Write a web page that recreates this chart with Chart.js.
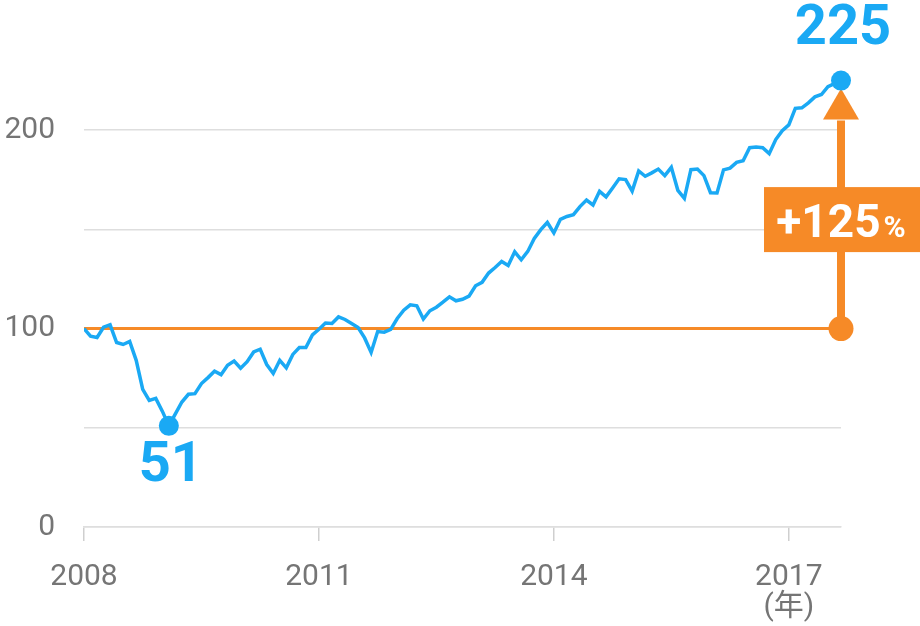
<!DOCTYPE html>
<html lang="ja">
<head>
<meta charset="utf-8">
<title>Index chart</title>
<script src="https://cdn.jsdelivr.net/npm/chart.js@4.4.1/dist/chart.umd.min.js"></script>
<style>
    html, body { margin: 0; padding: 0; background: #fff; }
    #wrap { width: 920px; height: 626px; }
</style>
</head>
<body>
<div id="wrap"><canvas id="index-chart" width="920" height="626"></canvas></div>
<script>
// Monthly index, Jan 2008 = 100 (month 0) .. Sep 2017 (month 116)
const indexValues = [
    100, 96.2, 95.5, 100.7, 101.9, 93, 92, 93.5, 84, 69.4, 63.8, 64.8,
    58.4, 51, 57, 63, 66.9, 67.2, 72.3, 75.3, 78.5, 76.8, 81.5, 83.6,
    80, 83.3, 88.2, 89.6, 81.9, 77.4, 84, 80.2, 87, 90.5, 90.5, 96.8,
    99.7, 102.8, 102.6, 105.9, 104.6, 102.6, 100.5, 95.3, 88, 98.5, 98.2, 99.6,
    105.1, 109.3, 112, 111.5, 104.8, 109, 110.8, 113.3, 116, 114, 114.8, 116.4,
    121.6, 123.3, 128, 130.8, 133.8, 131.8, 138.7, 134.7, 138.9, 145.4, 149.9, 153.5,
    148.2, 155.1, 156.5, 157.4, 161.5, 164.8, 162.3, 169.2, 166.4, 170.9, 175.5, 175.1,
    169.3, 179.5, 176.8, 178.5, 180.4, 177.1, 181.3, 169.7, 165.6, 180.1, 180.4, 177.1,
    168.5, 168.4, 180, 180.9, 183.8, 184.6, 191.2, 191.5, 191.2, 188.2, 195.3, 199.8,
    202.7, 211, 211.3, 213.8, 216.8, 218, 222, 223.5, 225
];
const baseValue = 100;

// x axis: ticks every 3 years, placed at month offsets
const yearTicks = [2008, 2011, 2014, 2017];
const yearTickMonths = [0, 36, 72, 108];
const yearUnit = '(年)';

// y axis labels (grid every 50)
const yTickLabels = [0, 100, 200];

const BLUE = '#1aa9f4';
const ORANGE = '#f68a27';
const GRAY_TEXT = '#757575';
const GRID = '#dedede';
const FONT = 'Roboto, "Noto Sans CJK JP", sans-serif';

const lastIdx = indexValues.length - 1;
const minVal = Math.min(...indexValues);
const minIdx = indexValues.indexOf(minVal);

// Annotations: min/end markers, orange arrow and change box
const annotationPlugin = {
    id: 'annotations',
    afterDatasetsDraw(chart) {
        const { ctx, scales: { x, y } } = chart;
        const endX = x.getPixelForValue(lastIdx);
        const endY = y.getPixelForValue(indexValues[lastIdx]);
        const baseY = y.getPixelForValue(baseValue);
        const minX = x.getPixelForValue(minIdx);
        const minY = y.getPixelForValue(minVal);

        ctx.save();

        // orange arrow
        const tipY = endY + 8;
        const headBase = tipY + 31;
        ctx.strokeStyle = ORANGE;
        ctx.lineWidth = 8;
        ctx.beginPath();
        ctx.moveTo(endX, baseY);
        ctx.lineTo(endX, headBase + 1);
        ctx.stroke();
        ctx.fillStyle = ORANGE;
        ctx.beginPath();
        ctx.moveTo(endX, tipY);
        ctx.lineTo(endX + 18, headBase);
        ctx.lineTo(endX - 18, headBase);
        ctx.closePath();
        ctx.fill();
        ctx.beginPath();
        ctx.arc(endX, baseY, 12.5, 0, Math.PI * 2);
        ctx.fill();

        // change box
        const boxMid = (tipY + baseY) / 2 + 11;
        ctx.fillRect(endX - 77, boxMid - 32.5, chart.width - (endX - 77), 65);
        const pct = Math.round((indexValues[lastIdx] / baseValue - 1) * 100);
        const big = '+' + pct;
        ctx.fillStyle = '#fff';
        ctx.textBaseline = 'alphabetic';
        ctx.font = `bold 46px ${FONT}`;
        const bigW = ctx.measureText(big).width;
        ctx.font = `bold 30px ${FONT}`;
        const pctW = ctx.measureText('%').width;
        const startX = endX - (bigW + 3 + pctW) / 2;
        ctx.textAlign = 'left';
        ctx.font = `bold 46px ${FONT}`;
        ctx.fillText(big, startX, boxMid + 17);
        ctx.font = `bold 30px ${FONT}`;
        ctx.fillText('%', startX + bigW + 3, boxMid + 17);

        // blue markers
        ctx.fillStyle = BLUE;
        [[minX, minY], [endX, endY]].forEach(([px, py]) => {
            ctx.beginPath();
            ctx.arc(px, py, 10, 0, Math.PI * 2);
            ctx.fill();
        });

        ctx.font = `bold 56px ${FONT}`;
        ctx.textAlign = 'center';
        ctx.textBaseline = 'middle';
        ctx.fillText(String(Math.round(minVal)), minX + 2, minY + 41);
        ctx.fillText(String(Math.round(indexValues[lastIdx])), endX + 2, endY - 51);

        ctx.restore();
    }
};

const chart = new Chart(document.getElementById('index-chart'), {
    type: 'line',
    data: {
        datasets: [
            {
                data: indexValues.map((v, i) => ({ x: i, y: v })),
                borderColor: BLUE,
                borderWidth: 3.5,
                pointRadius: 0,
                tension: 0,
                fill: false
            },
            {
                data: [{ x: 0, y: baseValue }, { x: lastIdx, y: baseValue }],
                borderColor: ORANGE,
                borderWidth: 3,
                pointRadius: 0,
                fill: false
            }
        ]
    },
    options: {
        responsive: false,
        animation: false,
        devicePixelRatio: 1,
        layout: { padding: { top: 31, right: 79, left: 0, bottom: 0 } },
        plugins: {
            legend: { display: false },
            tooltip: { enabled: false }
        },
        scales: {
            x: {
                type: 'linear',
                min: 0,
                max: lastIdx,
                afterBuildTicks: (scale) => {
                    scale.ticks = yearTickMonths.map(v => ({ value: v }));
                },
                afterFit: (scale) => { scale.height = 99; },
                ticks: {
                    padding: 21,
                    maxRotation: 0,
                    autoSkip: false,
                    color: GRAY_TEXT,
                    font: { family: FONT, size: 30, lineHeight: 1.0 },
                    callback: (value) => {
                        const k = yearTickMonths.indexOf(value);
                        if (k < 0) return '';
                        return k === yearTicks.length - 1 ? [String(yearTicks[k]), yearUnit] : String(yearTicks[k]);
                    }
                },
                grid: {
                    drawOnChartArea: false,
                    drawTicks: true,
                    tickLength: 14,
                    color: '#cfcfcf',
                    lineWidth: 1.5
                },
                border: { display: true, color: GRID, width: 1.5 }
            },
            y: {
                min: 0,
                max: 250,
                afterFit: (scale) => {
                    // fixed axis width; drop label overflow padding so the plot top is set by layout
                    scale.width = 84;
                    scale.paddingTop = 0;
                    scale.paddingBottom = 0;
                },
                ticks: {
                    stepSize: 50,
                    padding: 29,
                    color: GRAY_TEXT,
                    font: { family: FONT, size: 30 },
                    callback: (value) => yTickLabels.includes(value) ? String(value) : ''
                },
                grid: {
                    drawTicks: false,
                    lineWidth: 1.5,
                    color: (ctx) => (ctx.tick && ctx.tick.value === 250) ? 'rgba(0,0,0,0)' : GRID
                },
                border: { display: false }
            }
        }
    },
    plugins: [annotationPlugin]
});
</script>
</body>
</html>
